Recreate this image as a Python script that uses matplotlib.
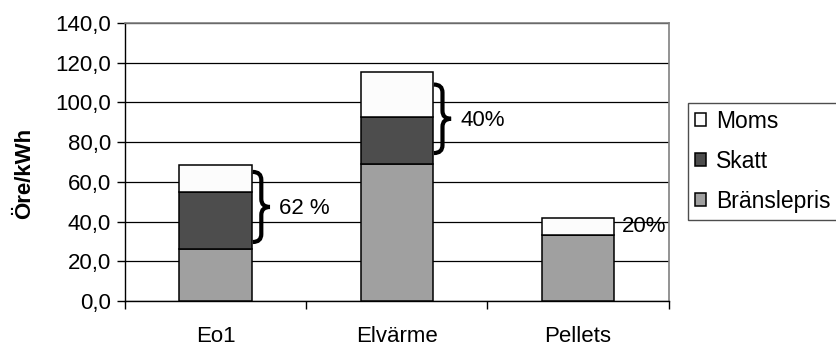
import numpy as np
import matplotlib
matplotlib.use('Agg')
import matplotlib.pyplot as plt
from matplotlib.path import Path
from matplotlib.patches import PathPatch
from matplotlib.ticker import FuncFormatter, FixedLocator

plt.rcParams['font.family'] = ['Liberation Sans', 'DejaVu Sans']

# data (öre/kWh)
categories = ['Eo1', 'Elvärme', 'Pellets']
branslepris = [26.2, 69.0, 33.3]
skatt = [28.7, 23.6, 0.0]
moms = [13.6, 22.7, 8.5]
tax_share = ['62 %', '40%', '20%']

# brace spans (low, high) next to each bar, None = no brace
brace_spans = [(29.7, 65.0), (74.5, 109.0), None]
label_y = [46.8, 91.0, 37.4]

FS = 16

fig = plt.figure(figsize=(8.37, 3.47), dpi=100)
ax = fig.add_axes([0.1493, 0.1326, 0.6494, 0.8011])

x = np.arange(len(categories))
w = 0.4
bottom2 = np.array(branslepris) + np.array(skatt)
ax.bar(x, branslepris, w, color='#A0A0A0', edgecolor='black', lw=1.1, zorder=3, label='Bränslepris')
ax.bar(x, skatt, w, bottom=branslepris, color='#4D4D4D', edgecolor='black', lw=1.1, zorder=3, label='Skatt')
ax.bar(x, moms, w, bottom=bottom2, color='#FCFCFC', edgecolor='black', lw=1.1, zorder=3, label='Moms')


def brace(ax, x0, y0, y1, bw=0.095, r=4.0):
    xm = x0 + bw / 2
    ym = (y0 + y1) / 2
    verts = [(x0, y0),
             (xm, y0), (xm, y0 + r),
             (xm, ym - r),
             (xm, ym), (x0 + bw, ym),
             (xm, ym), (xm, ym + r),
             (xm, y1 - r),
             (xm, y1), (x0, y1)]
    codes = [Path.MOVETO,
             Path.CURVE3, Path.CURVE3,
             Path.LINETO,
             Path.CURVE3, Path.CURVE3,
             Path.CURVE3, Path.CURVE3,
             Path.LINETO,
             Path.CURVE3, Path.CURVE3]
    ax.add_patch(PathPatch(Path(verts, codes), fill=False, lw=3.0, color='black',
                           capstyle='butt', zorder=4, clip_on=False))


for i, span in enumerate(brace_spans):
    if span is not None:
        brace(ax, x[i] + w / 2 + 0.005, span[0], span[1])
        ax.text(x[i] + w / 2 + 0.15, label_y[i], tax_share[i], fontsize=FS,
                va='center', ha='left', zorder=5)
    else:
        ax.text(x[i] + w / 2 + 0.04, label_y[i], tax_share[i], fontsize=FS,
                va='center', ha='left', zorder=5)

ax.set_xlim(-0.5, len(categories) - 0.5)
ax.set_ylim(0, 140)
ax.set_yticks(np.arange(0, 141, 20))
ax.yaxis.set_major_formatter(FuncFormatter(lambda v, p: f'{v:.1f}'.replace('.', ',')))
ax.set_xticks(x)
ax.set_xticklabels(categories)
ax.xaxis.set_minor_locator(FixedLocator(np.arange(-0.5, len(categories), 1.0)))
ax.tick_params(axis='x', which='major', length=0, pad=18, labelsize=FS)
ax.tick_params(axis='x', which='minor', length=6, width=1, direction='out')
ax.tick_params(axis='y', length=6, width=1, direction='out', pad=4, labelsize=FS)

ax.yaxis.grid(True, color='black', lw=0.9, zorder=0)
ax.set_axisbelow(True)
for s in ['top', 'right']:
    ax.spines[s].set_color('#808080')
    ax.spines[s].set_linewidth(1.2)
for s in ['left', 'bottom']:
    ax.spines[s].set_color('black')
    ax.spines[s].set_linewidth(1.0)

ax.set_ylabel('Öre/kWh', fontsize=FS, fontweight='bold')
ax.yaxis.set_label_coords(25 / 837, 0.5, transform=fig.transFigure)
ax.yaxis.label.set_va('center')

handles, labels = ax.get_legend_handles_labels()
leg = fig.legend(handles[::-1], labels[::-1], loc='upper left',
                 bbox_to_anchor=(688 / 837, 1 - 103 / 347), fontsize=16.5,
                 frameon=True, fancybox=False, edgecolor='#202020',
                 handlelength=0.48, handleheight=0.48, handletextpad=0.45,
                 labelspacing=0.74, borderpad=0.3, borderaxespad=0)
leg.get_frame().set_linewidth(1.0)

fig.savefig('out.png', dpi=100)
